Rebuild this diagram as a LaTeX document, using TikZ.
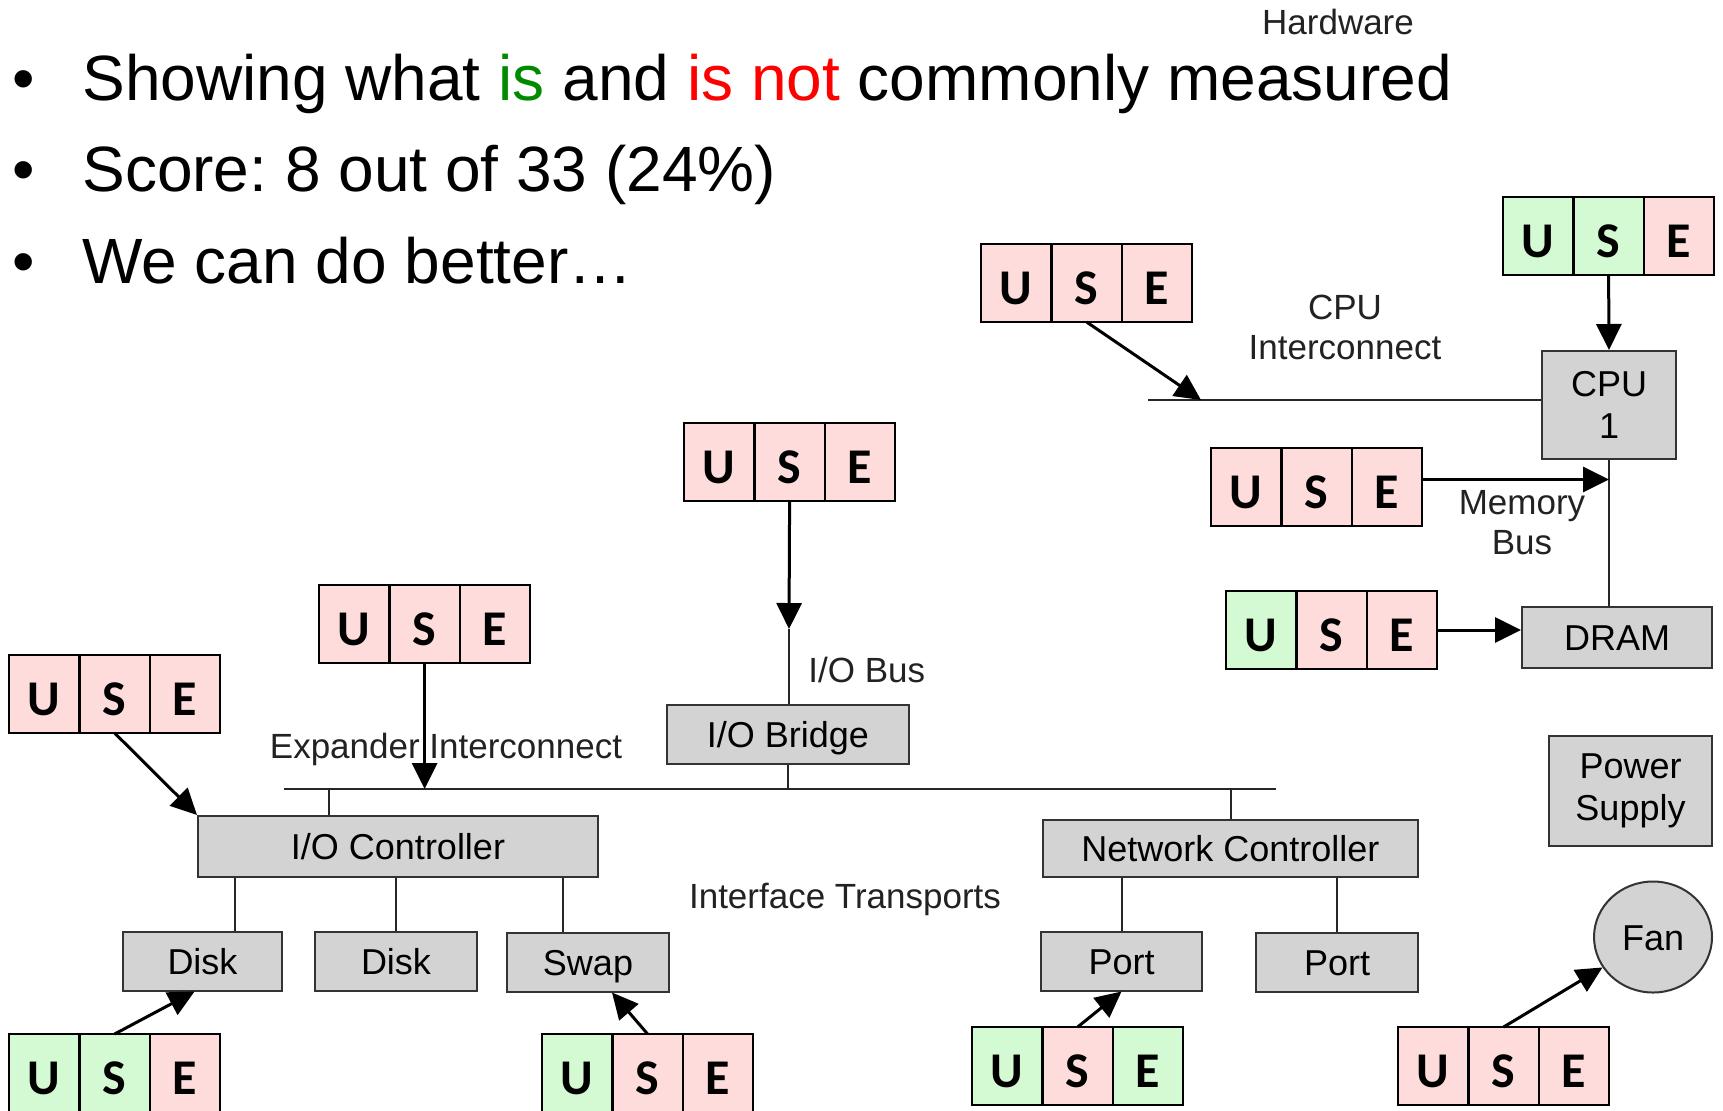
\documentclass[tikz,border=0pt]{standalone}
\usepackage{fontspec}
\setmainfont{Liberation Sans}
\newfontfamily\cellfont{Carlito}
\usepackage{tikz}
\usetikzlibrary{arrows.meta,positioning,shapes.geometric}
\usepackage{xcolor}
\definecolor{usepink}{HTML}{FDDCDB}
\definecolor{usegreen}{HTML}{D4FAD4}
\definecolor{partgray}{HTML}{D3D3D3}
\definecolor{isgreen}{HTML}{008A00}
\definecolor{isred}{HTML}{FF0000}
\definecolor{labelgray}{HTML}{222222}
\frenchspacing
% one U/S/E strip: name, north-west corner, fill of U, S, E
\newcommand{\usetrio}[5]{%
  \node[cell, fill=#3, anchor=north west] (#1-u) at (#2) {U};
  \node[cell, fill=#4, right=0pt of #1-u] (#1-s) {S};
  \node[cell, fill=#5, right=0pt of #1-s] (#1-e) {E};}

\begin{document}
\begin{tikzpicture}[
    x=0.5pt, y=-0.5pt,
    cell/.style={draw=black, line width=1.2pt, minimum width=35.2pt, minimum height=39pt,
        inner sep=0pt, outer sep=0pt, text height=21pt, text depth=0pt,
        font=\cellfont\bfseries\fontsize{25}{25}\selectfont},
    parttwo/.style={draw=black!80, line width=1pt, fill=partgray, minimum height=29.5pt,
        inner sep=2pt, align=center, font=\fontsize{18}{21}\selectfont},
    part/.style={parttwo, text height=13pt, text depth=0pt},
    label/.style={text=labelgray, align=center, inner sep=0pt, font=\fontsize{17.5}{20}\selectfont},
    bullet/.style={anchor=base west, inner sep=0pt, font=\fontsize{32}{38}\selectfont},
    arrow/.style={-{Triangle[length=13pt,width=12.5pt]}, line width=1.5pt},
    bus/.style={line width=1pt, draw=black!85}
]
\useasboundingbox (0,0) rectangle (1723,1110);
% slide text
\node[bullet, anchor=base] (b1) at (24,100) {\textbullet};
\node[bullet] (line1) at (82,100) {Showing what \textcolor{isgreen}{is} and \textcolor{isred}{is not} commonly measured};
\node[bullet, anchor=base] (b2) at (24,191) {\textbullet};
\node[bullet] (line2) at (82,191) {Score: 8 out of 33 (24\%)};
\node[bullet, anchor=base] (b3) at (24,283) {\textbullet};
\node[bullet] (line3) at (82,283) {We can do better\ldots};
\node[label] (hw) at (1338,22) {Hardware};
% parts
\node[parttwo, minimum width=67pt, minimum height=54pt] (cpu) at (1609,405) {CPU\\1};
\node[part, minimum width=95pt, minimum height=30.5pt] (dram) at (1617,637.5) {DRAM};
\node[parttwo, minimum width=81.5pt, minimum height=55pt] (psu) at (1630.5,791) {Power\\Supply};
\node[part, ellipse, minimum width=59pt, minimum height=55.5pt, inner sep=0pt] (fan) at (1653,937) {Fan};
\node[part, minimum width=121pt] (bridge) at (788,734) {I/O Bridge};
\node[part, minimum width=200pt, minimum height=30.5pt] (ioc) at (398,846.5) {I/O Controller};
\node[part, minimum width=187.5pt, minimum height=28.5pt] (netc) at (1230.5,848.5) {Network Controller};
\node[part, minimum width=79.5pt] (disk1) at (202.5,961) {Disk};
\node[part, minimum width=81pt] (disk2) at (396,961) {Disk};
\node[part, minimum width=81pt] (swap) at (588,962) {Swap};
\node[part, minimum width=80.5pt] (port1) at (1121.5,961) {Port};
\node[part, minimum width=81pt] (port2) at (1337,962) {Port};
% labels
\node[label] (cpuilbl) at (1345,327) {CPU\\Interconnect};
\node[label] (memlbl) at (1522,523) {Memory\\Bus};
\node[label, anchor=west] (ioblbl) at (808,670) {I/O Bus};
\node[label] (explbl) at (446,749) {Expander Interconnect};
\node[label] (iftlbl) at (845,899) {Interface Transports};
% USE strips
\usetrio{cpuiuse}{981,244}{usepink}{usepink}{usepink}
\usetrio{cpuuse}{1503,197}{usegreen}{usegreen}{usepink}
\usetrio{memuse}{1211,448}{usepink}{usepink}{usepink}
\usetrio{dramuse}{1226,591}{usegreen}{usepink}{usepink}
\usetrio{iobuse}{684,423}{usepink}{usepink}{usepink}
\usetrio{expuse}{319,585}{usepink}{usepink}{usepink}
\usetrio{iocuse}{9,655}{usepink}{usepink}{usepink}
\usetrio{dskuse}{9,1034}{usegreen}{usegreen}{usepink}
\usetrio{swpuse}{542,1034}{usegreen}{usepink}{usepink}
\usetrio{prtuse}{972,1027}{usegreen}{usepink}{usegreen}
\usetrio{fanuse}{1398,1027}{usepink}{usepink}{usepink}
% buses
\coordinate (ciend) at (1148,400);
\coordinate (citip) at (1201,400);
\coordinate (iobtip) at (789,629);
\coordinate (busL) at (284,789);
\coordinate (busR) at (1276,789);
\draw[bus] (ciend) -- (ciend -| cpu.west);
\draw[bus] (cpu.south) -- (cpu.south |- dram.north);
\draw[bus] (iobtip) -- (iobtip |- bridge.north);
\draw[bus] (busL) -- (busR);
\draw[bus] (bridge.south) -- (bridge.south |- busL);
\draw[bus] ([xshift=-34.5pt]ioc.north) -- ([xshift=-34.5pt]ioc.north |- busL);
\draw[bus] (netc.north) -- (netc.north |- busL);
\draw[bus] ([xshift=16.25pt]disk1.north) -- ([xshift=16.25pt]disk1.north |- ioc.south);
\draw[bus] (disk2.north) -- (disk2.north |- ioc.south);
\draw[bus] ([xshift=-12.5pt]swap.north) -- ([xshift=-12.5pt]swap.north |- ioc.south);
\draw[bus] (port1.north) -- (port1.north |- netc.south);
\draw[bus] (port2.north) -- (port2.north |- netc.south);
% measurement arrows
\draw[arrow] (cpuiuse-s.south) -- (citip);
\draw[arrow] (cpuuse-s.south) -- (cpu.north);
\draw[arrow] ([yshift=3.75pt]memuse-e.east) -- ([yshift=3.75pt]memuse-e.east -| cpu.south);
\draw[arrow] (dramuse-e.east) -- (dramuse-e.east -| dram.west);
\draw[arrow] (iobuse-s.south) -- (iobtip);
\draw[arrow] (expuse-s.south) -- (expuse-s.south |- busL);
\draw[arrow] (iocuse-s.south) -- (ioc.north west);
\draw[arrow] (dskuse-s.north) -- ([xshift=-4pt]disk1.south);
\draw[arrow] (swpuse-s.north) -- ([xshift=12pt]swap.south);
\draw[arrow] (prtuse-s.north) -- (port1.south);
\draw[arrow] (fanuse-s.north) -- (fan);
\end{tikzpicture}
\end{document}
